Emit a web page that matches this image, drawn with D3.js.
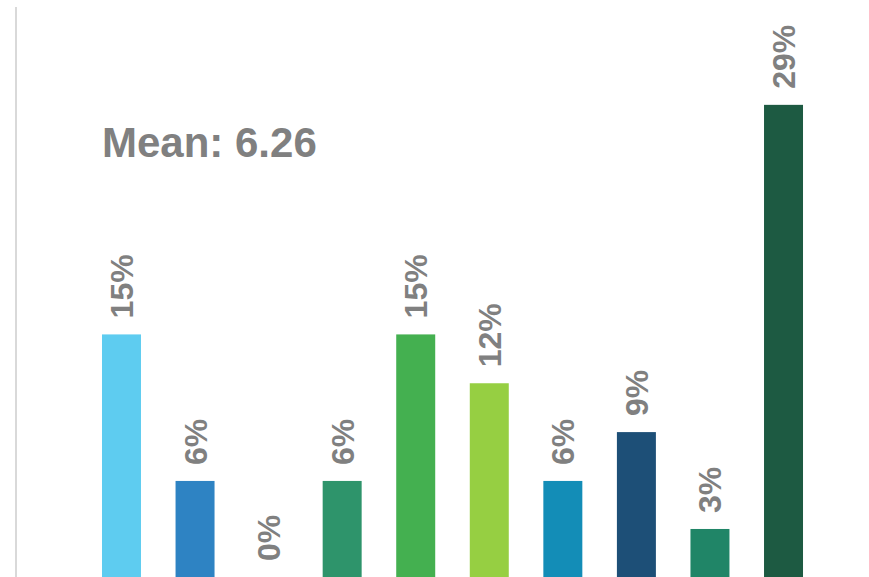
<!DOCTYPE html>
<html>
<head>
<meta charset="utf-8">
<script src="https://cdn.jsdelivr.net/npm/d3@7"></script>
<style>
  html, body { margin: 0; padding: 0; background: #ffffff; }
  svg { display: block; }
</style>
</head>
<body>
<script>
const categories = ["1", "2", "3", "4", "5", "6", "7", "8", "9", "10"];
const values = [14.9, 5.9, 0, 5.9, 14.9, 11.9, 5.9, 8.9, 2.95, 29.0];
const labels = ["15%", "6%", "0%", "6%", "15%", "12%", "6%", "9%", "3%", "29%"];
const colors = ["#5ECCF0", "#2E83C3", "#2B7BBF", "#2E946B", "#44B050", "#96CF42", "#138DB7", "#1D4F77", "#208567", "#1D5A42"];
const meanText = "Mean: 6.26";

const W = 869, H = 577;
const svg = d3.select("body").append("svg").attr("width", W).attr("height", H);

const x = d3.scaleBand().domain(categories).range([84.7, 820.3]).paddingInner(0.47).paddingOuter(0.235);
const y = d3.scaleLinear().domain([0, 35.44]).range([577, 0]);

// left axis line
svg.append("line")
  .attr("x1", 16).attr("x2", 16)
  .attr("y1", 7).attr("y2", H)
  .attr("stroke", "#d9d9d9").attr("stroke-width", 2);

svg.append("g").selectAll("rect")
  .data(values)
  .join("rect")
  .attr("x", (d, i) => x(categories[i]))
  .attr("y", d => y(d))
  .attr("width", x.bandwidth())
  .attr("height", d => y(0) - y(d))
  .attr("fill", (d, i) => colors[i]);

svg.append("g").selectAll("text")
  .data(values)
  .join("text")
  .attr("transform", (d, i) => `translate(${x(categories[i]) + x.bandwidth() / 2 + 11.5},${y(d) - 16}) rotate(-90)`)
  .attr("text-anchor", "start")
  .attr("font-family", "Liberation Sans, Arial, sans-serif")
  .attr("font-weight", "bold")
  .attr("font-size", 32)
  .attr("fill", "#808080")
  .text((d, i) => labels[i]);

svg.append("text")
  .attr("x", 102).attr("y", 157)
  .attr("font-family", "Liberation Sans, Arial, sans-serif")
  .attr("font-weight", "bold")
  .attr("font-size", 42)
  .attr("fill", "#808080")
  .text(meanText);
</script>
</body>
</html>
